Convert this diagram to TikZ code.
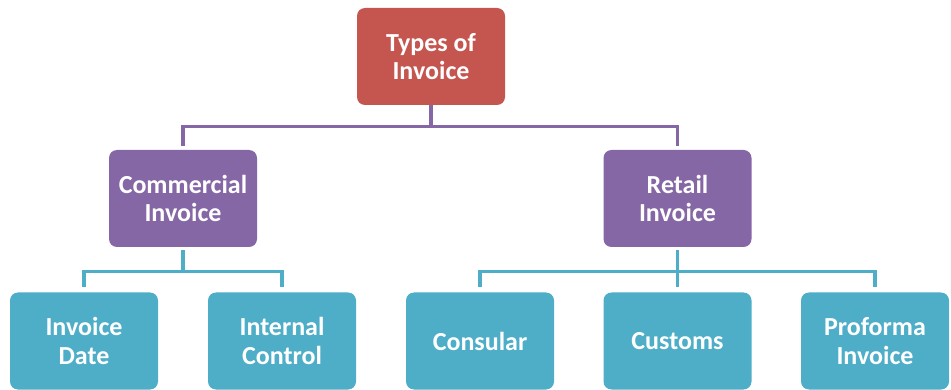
\documentclass[tikz,border=0pt]{standalone}
\usepackage{fontspec}
\setmainfont{Carlito}
\definecolor{topred}{HTML}{C5554F}
\definecolor{midpurple}{HTML}{8567A5}
\definecolor{lowblue}{HTML}{4EAEC8}
\tikzset{
  box/.style={rounded corners=8pt, minimum width=148pt, minimum height=97pt,
    inner sep=0pt, align=center, text=white,
    font=\fontsize{26}{28.5}\selectfont\bfseries},
  redbox/.style={box, fill=topred},
  purplebox/.style={box, fill=midpurple},
  bluebox/.style={box, fill=lowblue},
  pline/.style={draw=midpurple, line width=3.2pt},
  bline/.style={draw=lowblue, line width=3.2pt},
}
\begin{document}
\begin{tikzpicture}[x=1pt,y=-1pt]
\useasboundingbox (0,0) rectangle (951,390);
\node[redbox] (top) at (431,56.5) {Types of\\Invoice};
\node[purplebox] (com) at (183,198.5) {Commercial\\Invoice};
\node[purplebox] (ret) at (677.5,198.5) {Retail\\Invoice};
\node[bluebox] (d1) at (84,341) {Invoice\\Date};
\node[bluebox] (d2) at (282,341) {Internal\\Control};
\node[bluebox] (d3) at (480,341) {Consular};
\node[bluebox] (d4) at (677.5,341) {Customs};
\node[bluebox] (d5) at (875,341) {Proforma\\Invoice};
\draw[pline, shorten >=4pt] (top.south) -- ++(0,21) -| (com.north);
\draw[pline, shorten >=4pt] (top.south) -- ++(0,21) -| (ret.north);
\draw[bline, shorten <=3pt, shorten >=5pt] (com.south) -- ++(0,24) -| (d1.north);
\draw[bline, shorten <=3pt, shorten >=5pt] (com.south) -- ++(0,24) -| (d2.north);
\draw[bline, shorten <=3pt, shorten >=5pt] (ret.south) -- ++(0,24) -| (d3.north);
\draw[bline, shorten <=3pt, shorten >=5pt] (ret.south) -- (d4.north);
\draw[bline, shorten <=3pt, shorten >=5pt] (ret.south) -- ++(0,24) -| (d5.north);
\end{tikzpicture}
\end{document}
